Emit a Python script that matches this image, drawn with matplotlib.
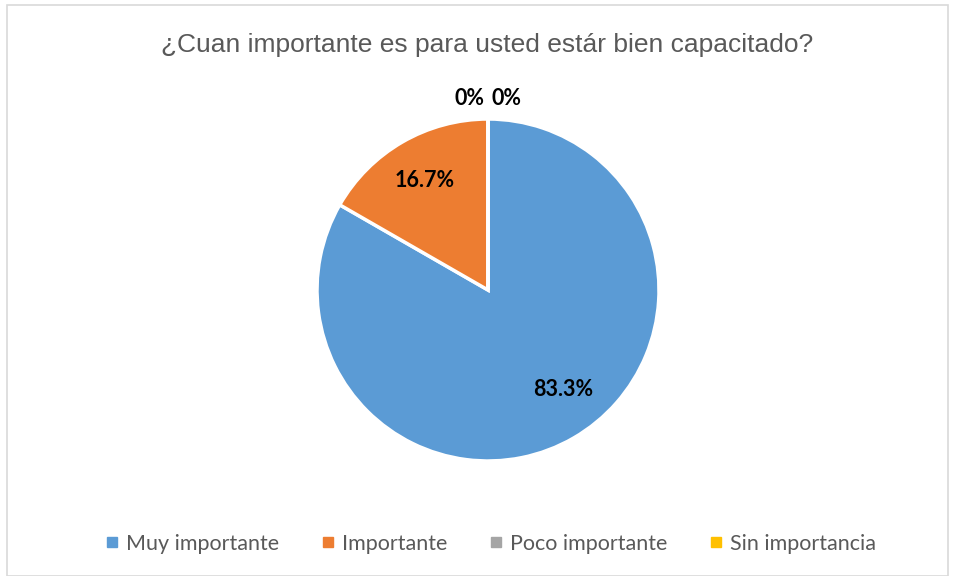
import numpy as np
import matplotlib.pyplot as plt
from matplotlib.patches import Rectangle

categories = ['Muy importante', 'Importante', 'Poco importante', 'Sin importancia']
values = [83.3, 16.7, 0, 0]
labels = ['83.3%', '16.7%', '0%', '0%']
colors = ['#5B9BD5', '#ED7D31', '#A5A5A5', '#FFC000']

W, H = 955, 576
fig = plt.figure(figsize=(W / 100, H / 100), dpi=100)

# light border round the chart area
fig.patches.append(Rectangle((7 / W, 0), (W - 14) / W, (H - 5) / H,
                             transform=fig.transFigure, fill=False,
                             edgecolor='#D9D9D9', linewidth=1.2))

cx, cy, r = 488, 290, 171
ax = fig.add_axes([(cx - r) / W, (H - cy - r) / H, 2 * r / W, 2 * r / H])
wedges, _ = ax.pie(values, colors=colors, startangle=90, counterclock=False,
                   wedgeprops=dict(edgecolor='white', linewidth=2.5))
ax.set_xlim(-1, 1)
ax.set_ylim(-1, 1)
ax.set_aspect('equal')
ax.axis('off')

# data labels
zero_off = [-0.11, 0.11]
zi = 0
for w, v, lab in zip(wedges, values, labels):
    if v > 0:
        ang = np.deg2rad((w.theta1 + w.theta2) / 2)
        d = 0.74 if v < 50 else 0.67
        x, y = d * np.cos(ang), d * np.sin(ang)
        if v > 50:
            x += 0.105
    else:
        x, y = zero_off[zi], 1.12
        zi += 1
    ax.text(x, y, lab, ha='center', va='center', fontsize=15.5,
            fontweight='bold', family='Lato', color='black', clip_on=False)

fig.text(0.5 + 10 / W, 1 - 45 / H, '¿Cuan importante es para usted estár bien capacitado?',
         ha='center', va='center', fontsize=19, color='#595959',
         family='Liberation Sans')

handles = [plt.Line2D([], [], marker='s', linestyle='none', markersize=6.5,
                      markerfacecolor=c, markeredgecolor=c) for c in colors]
fig.legend(handles, categories, loc='center', bbox_to_anchor=(491 / W, 1 - 544 / H),
           ncol=4, frameon=False, handlelength=0.6, handletextpad=0.35,
           columnspacing=1.97,
           prop={'family': 'Lato', 'size': 15.5}, labelcolor='#595959')

fig.savefig('out.png', dpi=100)
